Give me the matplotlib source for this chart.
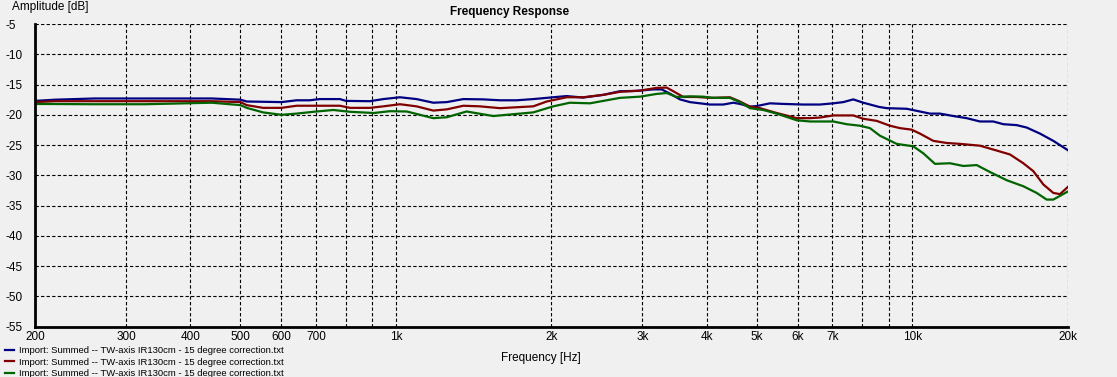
import matplotlib
matplotlib.use("Agg")
import matplotlib.pyplot as plt
import numpy as np

# (Hz, dB)
blue_f = [200, 219, 261, 440, 500, 514, 600, 642, 681, 712, 779, 800, 890, 945, 1018,
          1096, 1181, 1254, 1350, 1476, 1590, 1712, 1844, 2016, 2140, 2303, 2520, 2714,
          2924, 3148, 3268, 3392, 3547, 3708, 4054, 4302, 4498, 4634, 4846, 4994, 5298,
          5622, 6146, 6620, 7026, 7346, 7680, 8030, 8620, 8914, 9742, 10336, 10810,
          11304, 11996, 12732, 13510, 14338, 14994, 15912, 16636, 17654, 18736, 20000]
blue_db = [-17.7, -17.5, -17.3, -17.3, -17.5, -17.8, -17.9, -17.6, -17.6, -17.4, -17.4,
           -17.7, -17.75, -17.4, -17.1, -17.4, -18.0, -17.9, -17.4, -17.45, -17.6, -17.6,
           -17.4, -17.1, -16.9, -17.15, -16.7, -16.1, -16.05, -15.8, -15.8, -16.5, -17.45,
           -17.9, -18.3, -18.3, -18.0, -18.2, -18.65, -18.55, -18.1, -18.2, -18.3, -18.3,
           -18.1, -17.9, -17.45, -18.0, -18.7, -18.9, -19.0, -19.45, -19.8, -19.8, -20.2,
           -20.55, -21.1, -21.1, -21.55, -21.7, -22.1, -23.1, -24.3, -25.85]

red_f = [200, 219, 440, 500, 514, 553, 600, 642, 712, 779, 815, 890, 945, 1018, 1096,
         1181, 1254, 1350, 1454, 1590, 1712, 1844, 1958, 2140, 2303, 2520, 2714, 2968,
         3196, 3342, 3442, 3600, 3820, 4054, 4432, 4634, 4846, 5066, 5458, 5968, 6332,
         6620, 7026, 7680, 8030, 8524, 9046, 9458, 9962, 10336, 10972, 11646, 12360,
         13510, 14554, 15446, 16390, 17134, 17920, 18736, 19300, 20000]
red_db = [-17.9, -17.75, -17.75, -17.9, -18.4, -18.85, -18.85, -18.5, -18.5, -18.5,
          -18.85, -18.85, -18.6, -18.25, -18.6, -19.3, -19.1, -18.5, -18.6, -18.9,
          -18.75, -18.6, -17.8, -17.1, -17.1, -16.7, -16.2, -16.0, -15.55, -15.5, -16.1,
          -17.05, -17.05, -17.2, -17.1, -17.8, -18.65, -18.9, -19.7, -20.55, -20.55,
          -20.45, -20.1, -20.1, -20.65, -21.0, -21.8, -22.2, -22.45, -23.1, -24.3,
          -24.65, -24.8, -25.1, -25.9, -26.55, -28.0, -29.3, -31.5, -32.9, -33.1, -31.9]

green_f = [200, 261, 327, 440, 500, 514, 553, 600, 642, 692, 756, 815, 906, 973, 1049,
           1181, 1254, 1370, 1543, 1712, 1844, 2016, 2171, 2374, 2714, 2968, 3196, 3342,
           3494, 3708, 3934, 4120, 4432, 4634, 4846, 5140, 5458, 5968, 6332, 7026, 7458,
           7912, 8274, 8650, 9320, 10034, 10492, 11055, 11820, 12546, 13312, 14126, 15218,
           16390, 17394, 18186, 18736, 20000]
green_db = [-18.2, -18.25, -18.25, -18.0, -18.4, -18.85, -19.6, -20.0, -19.8, -19.5,
            -19.2, -19.5, -19.7, -19.4, -19.45, -20.55, -20.4, -19.45, -20.2, -19.85,
            -19.6, -18.6, -18.0, -18.1, -17.2, -17.0, -16.55, -16.4, -17.05, -16.95,
            -17.0, -17.2, -17.2, -17.9, -18.9, -19.2, -19.8, -20.9, -21.1, -21.1, -21.55,
            -21.8, -22.2, -23.45, -24.8, -25.2, -26.35, -28.1, -28.0, -28.45, -28.3,
            -29.45, -30.8, -31.8, -32.9, -34.0, -34.0, -32.65]

series_name = "Import: Summed -- TW-axis IR130cm - 15 degree correction.txt"
colors = ["#000080", "#800000", "#006400"]

grid_freqs = [200, 300, 400, 500, 600, 700, 800, 900, 1000, 2000, 3000, 4000, 5000,
              6000, 7000, 8000, 9000, 10000, 20000]
grid_labels = ["200", "300", "400", "500", "600", "700", "", "", "1k", "2k", "3k", "4k",
               "5k", "6k", "7k", "", "", "10k", "20k"]
y_ticks = list(range(-55, 0, 5))

plt.rcParams['font.family'] = ['Liberation Sans', 'DejaVu Sans']
bg = "#f0f0f0"

fig = plt.figure(figsize=(11.17, 3.77), dpi=100, facecolor=bg)
ax = fig.add_axes([0.0313, 0.1334, 0.9248, 0.8029], facecolor=bg)

for f, db, c in zip([blue_f, red_f, green_f], [blue_db, red_db, green_db], colors):
    ax.plot(f, db, color=c, linewidth=1.6, label=series_name)

ax.set_xscale('log')
ax.set_xlim(200, 20000)
ax.set_ylim(-55, -5)
ax.xaxis.set_major_locator(matplotlib.ticker.FixedLocator(grid_freqs))
ax.xaxis.set_major_formatter(matplotlib.ticker.FixedFormatter(grid_labels))
ax.xaxis.set_minor_locator(matplotlib.ticker.NullLocator())
ax.set_yticks(y_ticks)
ax.set_yticklabels([str(v) for v in y_ticks])

ax.grid(True, color='black', linestyle=(0, (3, 2)), linewidth=0.8)
ax.tick_params(axis='both', length=0, labelsize=8.5, colors='black')
ax.tick_params(axis='x', pad=3)
ax.tick_params(axis='y', pad=21)
for lab in ax.get_yticklabels():
    lab.set_horizontalalignment('left')

for s in ['top', 'right']:
    ax.spines[s].set_visible(False)
for s in ['left', 'bottom']:
    ax.spines[s].set_linewidth(2)
    ax.spines[s].set_zorder(5)

fig.text(510 / 1117, 1 - 12 / 377, "Frequency Response", ha='center', va='center',
         fontsize=8.5, fontweight='bold')
fig.text(12 / 1117, 1 - 7 / 377, "Amplitude [dB]", ha='left', va='center', fontsize=8.5)
fig.text(541 / 1117, 1 - 358 / 377, "Frequency [Hz]", ha='center', va='center', fontsize=8.5)

fig.legend(loc='upper left', bbox_to_anchor=(5 / 1117, 1 - 346 / 377), frameon=False,
           fontsize=6.8, handlelength=1.0, handletextpad=0.5, labelspacing=0.28,
           borderpad=0, borderaxespad=0)

fig.savefig("out.png", dpi=100, facecolor=bg)
